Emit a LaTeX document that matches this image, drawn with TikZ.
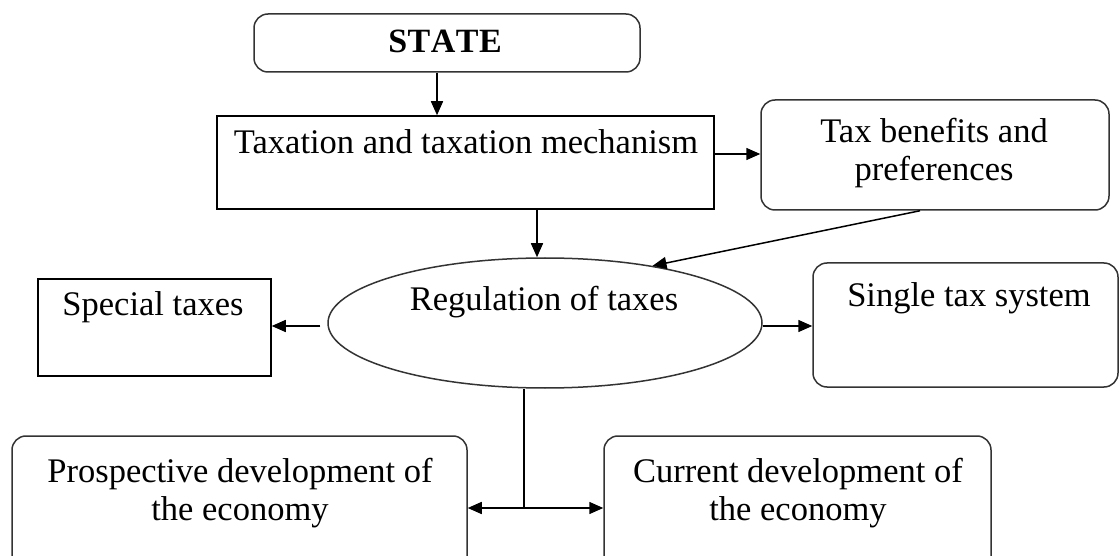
\documentclass[tikz,border=0pt]{standalone}
\usepackage{fontspec}
\setmainfont{Liberation Serif}
\usetikzlibrary{arrows.meta,shapes.geometric}
\begin{document}
\begin{tikzpicture}[x=1pt,y=-1pt,
  every node/.style={font=\fontsize{34.5}{38}\selectfont},
  rbox/.style={draw=black!80, line width=1.5pt, rounded corners=14pt, inner sep=0pt},
  sbox/.style={draw=black, line width=1.5pt, inner sep=0pt},
  ebox/.style={ellipse, draw=black!80, line width=1.5pt, inner sep=0pt},
  lbl/.style={anchor=base, align=center, inner sep=0pt},
  arr/.style={line width=1.5pt, -{Triangle[length=14pt,width=12pt]}},
  ln/.style={line width=1.5pt}]
\useasboundingbox (0,0) rectangle (1120,556);
\clip (0,0) rectangle (1120,556);
% boxes
\node[rbox, minimum width=386pt, minimum height=58pt] (state) at (447,43) {};
\node[sbox, minimum width=497pt, minimum height=93pt] (tax) at (465.5,162.5) {};
\node[rbox, minimum width=348pt, minimum height=110pt] (ben) at (935,155) {};
\node[ebox, minimum width=434pt, minimum height=130pt] (reg) at (545,323) {};
\node[sbox, minimum width=233pt, minimum height=97pt] (spec) at (154.5,327.5) {};
\node[rbox, minimum width=305pt, minimum height=124pt] (single) at (965.5,325) {};
\node[rbox, minimum width=455pt, minimum height=144pt] (prosp) at (239.5,508) {};
\node[rbox, minimum width=387pt, minimum height=144pt] (curr) at (797.5,508) {};
% texts
\node[lbl, font=\fontsize{34}{38}\selectfont\bfseries] (stateT) at (445,53) {S\kern0.5ptT\kern0.5ptA\kern0.5ptT\kern0.5ptE};
\node[lbl] (taxT) at (466,154) {Taxation and taxation mechanism};
\node[lbl] (benT) at (934,181) {Tax benefits and\\preferences};
\node[lbl] (regT) at (544,311) {Regulation of taxes};
\node[lbl] (specT) at (153,316) {Special taxes};
\node[lbl] (singT) at (969,307) {Single tax system};
\node[lbl] (prospT) at (240,520) {Prospective development of\\the economy};
\node[lbl] (currT) at (798,520) {Current development of\\the economy};
% helper coordinates
\coordinate (ax) at (437,0);
\coordinate (bx) at (537,0);
\coordinate (by) at (0,154);
\coordinate (cx) at (920,0);
\coordinate (jx) at (524,0);
% connectors
\draw[arr] (state.south -| ax) -- (tax.north -| ax);
\draw[arr] (tax.east |- by) -- (ben.west |- by);
\draw[arr] (tax.south -| bx) -- (reg.north -| bx);
\draw[arr] (ben.south -| cx) -- (reg.28);
\draw[arr] ([xshift=-7pt,yshift=-3pt]reg.west) -- ([yshift=-3pt]spec.east |- reg.west);
\draw[arr] ([yshift=-3pt]reg.east) -- ([yshift=-3pt]single.west |- reg.east);
\coordinate (j) at (jx |- prosp.east);
\draw[ln] (reg.south -| jx) -- (j);
\draw[arr] (j) -- (prosp.east);
\draw[arr] (j) -- (curr.west);
\end{tikzpicture}
\end{document}
